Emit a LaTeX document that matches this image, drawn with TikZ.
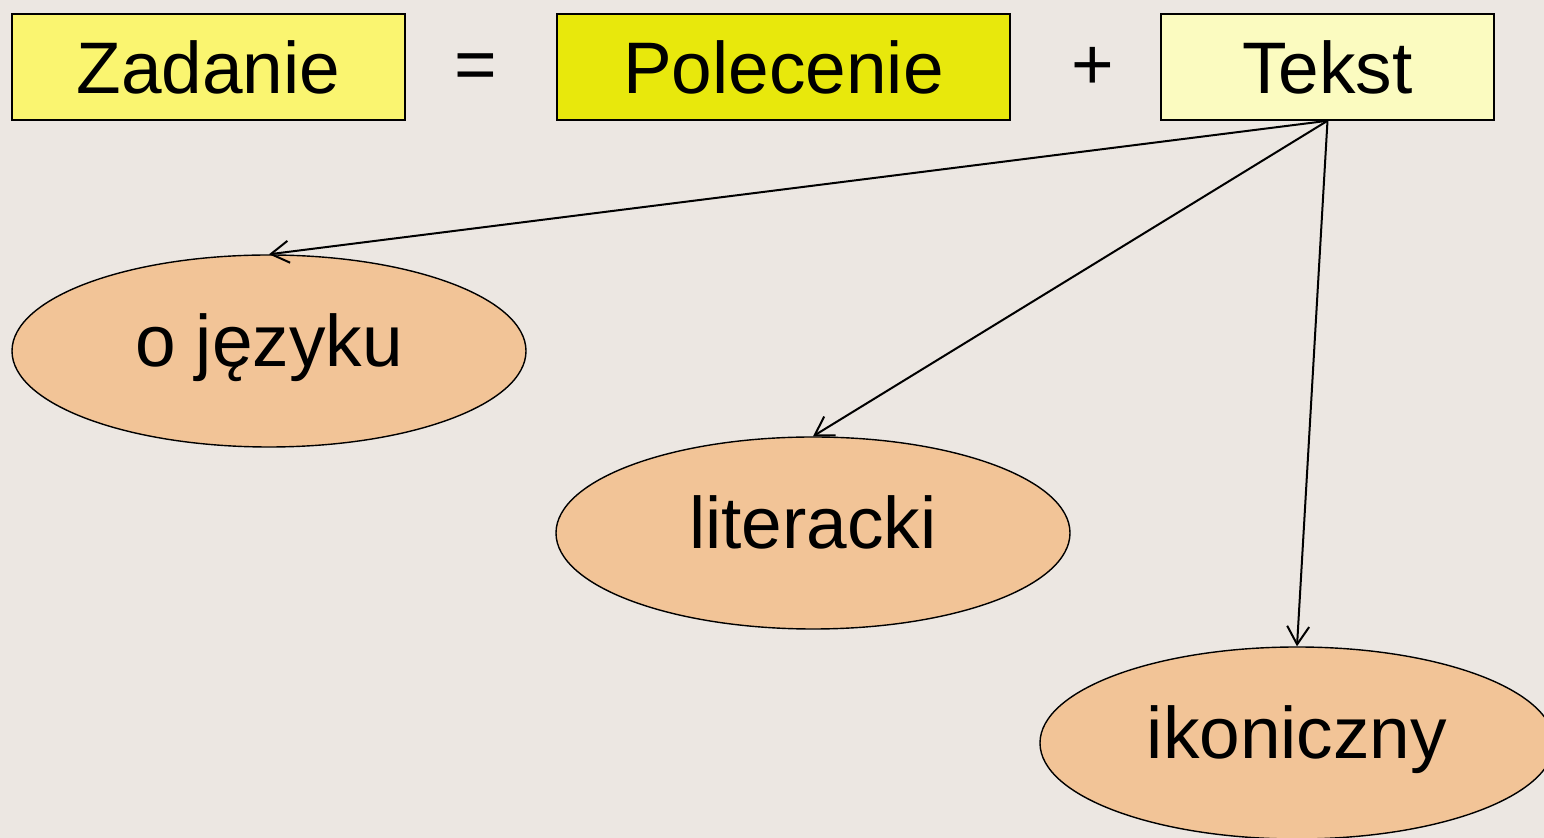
\documentclass[tikz,border=0pt]{standalone}
\usepackage{fontspec}
\setmainfont{Liberation Sans}
\usetikzlibrary{shapes.geometric,arrows.meta}
\definecolor{bg}{HTML}{ECE7E2}
\definecolor{zad}{HTML}{FAF570}
\definecolor{pol}{HTML}{E8E80C}
\definecolor{tek}{HTML}{FBFBC0}
\definecolor{ell}{HTML}{F2C497}
\tikzset{
  topbox/.style={draw=black, line width=0.8pt, minimum height=53pt, inner sep=0pt,
    font=\fontsize{36.5}{40}\selectfont},
  kind/.style={ellipse, draw=black, fill=ell, line width=0.7pt, minimum width=257pt,
    minimum height=96pt, inner sep=0pt, text height=26pt, text depth=10pt,
    font=\fontsize{36.5}{40}\selectfont},
  sign/.style={font=\fontsize{36.5}{40}\selectfont, inner sep=0pt},
  link/.style={line width=1pt, -{Straight Barb[length=9pt,width=11pt,line width=1pt]}}
}
\begin{document}
\begin{tikzpicture}[x=0.5pt,y=-0.5pt]
\fill[bg] (0,0) rectangle (1544,838);
\useasboundingbox (0,0) rectangle (1544,838);
\node[topbox, fill=zad, minimum width=196.5pt] (zadanie) at (208.5,67) {Zadanie};
\node[sign] (eq) at (476,72) {=};
\node[topbox, fill=pol, minimum width=226.5pt] (polecenie) at (783.5,67) {Polecenie};
\node[sign] (plus) at (1093,68) {+};
\node[topbox, fill=tek, minimum width=166.5pt] (tekst) at (1327.5,67) {Tekst};
\node[kind] (jezyk) at (269,351) {o języku};
\node[kind] (lit) at (813,533) {literacki};
\node[kind] (ikon) at (1297,743) {ikoniczny};
\draw[link] (tekst.south) -- (jezyk.north);
\draw[link] (tekst.south) -- (lit.north);
\draw[link] (tekst.south) -- (ikon.north);
\end{tikzpicture}
\end{document}
